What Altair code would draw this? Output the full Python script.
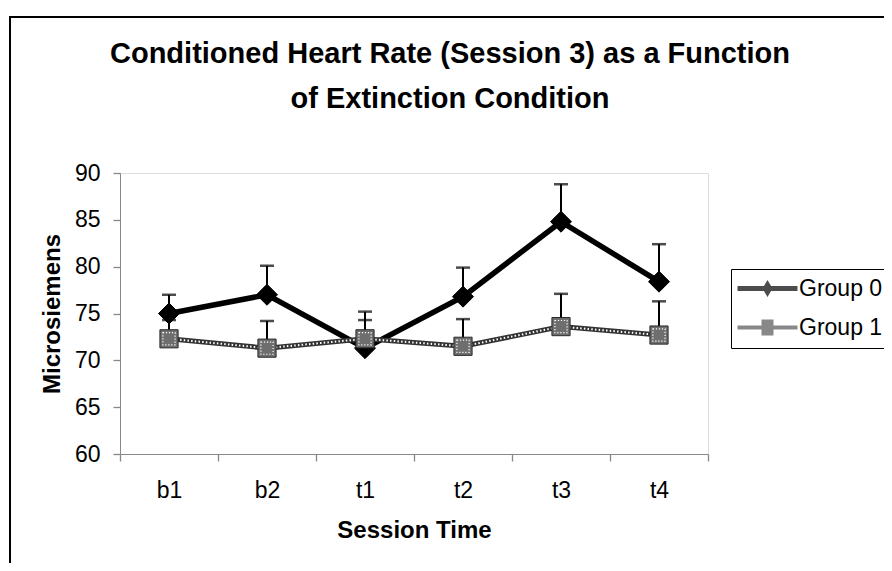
import altair as alt
import pandas as pd

# ---- data ----
sessions = ["b1", "b2", "t1", "t2", "t3", "t4"]
groups = ["Group 0", "Group 1"]
group0_mean = [75.0, 77.0, 71.3, 76.8, 84.8, 78.4]
group0_upper = [77.0, 80.1, 75.2, 79.9, 88.8, 82.4]
group1_mean = [72.3, 71.3, 72.3, 71.5, 73.6, 72.7]
group1_upper = [74.3, 74.2, 74.3, 74.4, 77.1, 76.3]
y_ticks = [60, 65, 70, 75, 80, 85, 90]

rows = []
for s, m, u in zip(sessions, group0_mean, group0_upper):
    rows.append({"session": s, "group": groups[0], "mean": m, "upper": u})
for s, m, u in zip(sessions, group1_mean, group1_upper):
    rows.append({"session": s, "group": groups[1], "mean": m, "upper": u})
df = pd.DataFrame(rows)

FONT = "Liberation Sans"

x_enc = alt.X(
    "session:N",
    sort=sessions,
    scale=alt.Scale(type="band", paddingInner=0, paddingOuter=0),
    axis=alt.Axis(
        title="Session Time", tickBand="extent", labelAngle=0,
        tickSize=7, tickWidth=1.3, labelPadding=18, labelFontSize=23,
        titleFontSize=24, titleFontWeight="bold", titleY=76, titleBaseline="middle",
    ),
)
y_axis = alt.Axis(
    title="Microsiemens", values=y_ticks, tickSize=7, tickWidth=1.3,
    labelPadding=13, labelFontSize=23, grid=False,
    titleFontSize=24, titleFontWeight="bold", titleX=-68, titleY=140.5,
    titleBaseline="middle", titleAlign="center",
)
y_scale = alt.Scale(domain=[60, 90], nice=False, zero=False)

def yq(field):
    return alt.Y(f"{field}:Q", scale=y_scale, axis=y_axis)

base = alt.Chart(df).encode(x=x_enc)

def series(gname, line_color, line_width, shape, size, fill, stroke, dotted):
    b = base.transform_filter(alt.datum.group == gname)
    err = b.mark_rule(color="black", strokeWidth=2).encode(y=yq("mean"), y2="upper:Q")
    cap = b.mark_tick(color="black", size=14, thickness=2.5).encode(y=yq("upper"))
    line = b.mark_line(color=line_color, strokeWidth=line_width).encode(y=yq("mean"))
    layers = [err, cap, line]
    if dotted:
        layers.append(
            b.mark_line(color="white", strokeWidth=2, strokeDash=[1.5, 2.2]).encode(y=yq("mean"))
        )
    pts = b.mark_point(shape=shape, size=size, filled=True, fill=fill,
                       stroke=stroke, strokeWidth=1, opacity=1).encode(y=yq("mean"))
    layers.append(pts)
    if dotted:
        layers.append(
            b.mark_point(shape=shape, size=size * 0.45, filled=False, stroke="white",
                         strokeWidth=1.2, strokeDash=[1.2, 1.8], opacity=1).encode(y=yq("mean"))
        )
    return layers

g0 = series(groups[0], "black", 5.5, "diamond", 440, "black", "black", False)
g1 = series(groups[1], "#333333", 5, "square", 330, "#6e6e6e", "#2a2a2a", True)

# legend symbols: a line with the marker in the middle
path0 = "M-3,-0.25L3,-0.25L3,0.25L-3,0.25Z M0,-0.85L0.5,0L0,0.85L-0.5,0Z"
path1 = "M-3,-0.2L3,-0.2L3,0.2L-3,0.2Z M-0.6,-0.8L0.6,-0.8L0.6,0.8L-0.6,0.8Z"
leg = alt.Legend(
    title=None, orient="none", legendX=611, legendY=96,
    strokeColor="black", fillColor="white", padding=8,
    labelFont=FONT, labelFontSize=23, labelColor="black",
    symbolSize=400, symbolOffset=17, labelOffset=20, rowPadding=15,
    symbolStrokeWidth=0,
)
legend_layer = alt.Chart(df).transform_filter("false").mark_point(filled=True, size=400).encode(
    shape=alt.Shape("group:N", scale=alt.Scale(domain=groups, range=[path0, path1]), legend=leg),
    color=alt.Color("group:N", scale=alt.Scale(domain=groups, range=["black", "#555555"]), legend=leg),
)

border = alt.Chart(pd.DataFrame({"a": [0]})).mark_rect(
    fillOpacity=0, stroke="black", strokeWidth=2
).encode(x=alt.value(-110), x2=alt.value(790), y=alt.value(-156), y2=alt.value(393))

chart = alt.layer(border, *g0, *g1, legend_layer).properties(
    width=588, height=281,
    padding={"left": 112, "top": 165, "right": 176, "bottom": 109},
    autosize=alt.AutoSizeParams(type="none"),
    title=alt.Title(
        text=["Conditioned Heart Rate (Session 3) as a Function", "of Extinction Condition"],
        font=FONT, fontSize=29, fontWeight="bold", color="black",
        anchor="middle", dx=36, offset=-98, lineHeight=45,
    ),
).configure_view(
    stroke="black", strokeDash=[2, 2], strokeWidth=1.2
).configure_axis(
    labelFont=FONT, titleFont=FONT, labelColor="black", titleColor="black",
    domainColor="black", tickColor="black", domainWidth=1.5,
).configure_legend(
    strokeWidth=1.5,
).configure(background="white")

chart.save("out.html", embed_options={"renderer": "svg", "actions": False})
